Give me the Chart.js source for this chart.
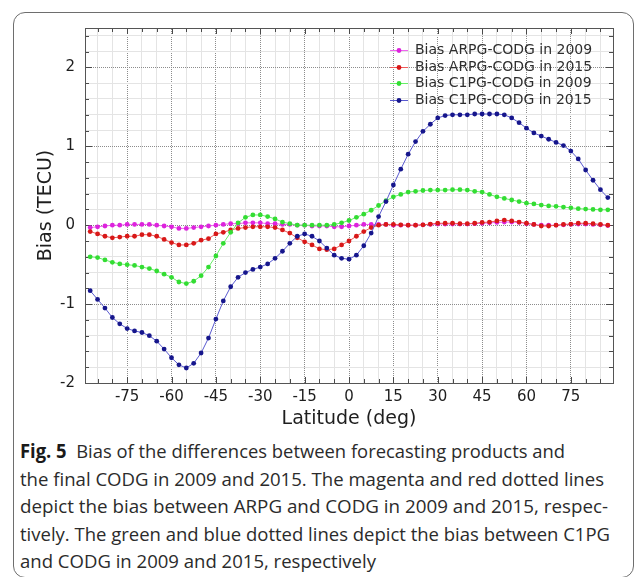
<!DOCTYPE html>
<html>
<head>
<meta charset="utf-8">
<title>Bias of forecasting products vs CODG</title>
<script src="https://cdn.jsdelivr.net/npm/chart.js@4/dist/chart.umd.min.js"></script>
<style>
  html, body { margin: 0; padding: 0; background: #fff; }
  body { width: 635px; height: 577px; position: relative; overflow: hidden; }
  #frame {
    position: absolute; left: 13px; top: 12px; width: 621px; height: 566px;
    border: 1.5px solid #6e6e6e; border-radius: 12px; box-sizing: border-box;
  }
  #plot { position: absolute; left: 0; top: 0; }
  .cap {
    position: absolute; left: 20px; height: 28px; line-height: 28px;
    font-family: "Open Sans", "Noto Sans", sans-serif; font-size: 19px;
    color: #2b2b2b; white-space: nowrap; transform-origin: 0 50%;
  }
  .cap b { font-weight: 700; color: #1a1a1a; }
</style>
</head>
<body>
<div id="frame"></div>
<canvas id="plot" width="635" height="430"></canvas>

<div class="cap" style="top:437px" data-w="545"><b>Fig. 5</b>&nbsp; Bias of the differences between forecasting products and</div>
<div class="cap" style="top:465px" data-w="584">the final CODG in 2009 and 2015. The magenta and red dotted lines</div>
<div class="cap" style="top:492px" data-w="588">depict the bias between ARPG and CODG in 2009 and 2015, respec-</div>
<div class="cap" style="top:520px" data-w="590">tively. The green and blue dotted lines depict the bias between C1PG</div>
<div class="cap" style="top:547px" data-w="356">and CODG in 2009 and 2015, respectively</div>

<script>
// latitude bands (deg)
const latitudes = [
  -87.5, -85, -82.5, -80, -77.5, -75, -72.5, -70, -67.5, -65, -62.5, -60,
  -57.5, -55, -52.5, -50, -47.5, -45, -42.5, -40, -37.5, -35, -32.5, -30,
  -27.5, -25, -22.5, -20, -17.5, -15, -12.5, -10, -7.5, -5, -2.5, 0,
  2.5, 5, 7.5, 10, 12.5, 15, 17.5, 20, 22.5, 25, 27.5, 30, 32.5, 35,
  37.5, 40, 42.5, 45, 47.5, 50, 52.5, 55, 57.5, 60, 62.5, 65, 67.5, 70,
  72.5, 75, 77.5, 80, 82.5, 85, 87.5
];

// bias in TECU
const arpg2009 = [
  -0.03, -0.02, -0.01, 0.0, 0.0, 0.01, 0.01, 0.01, 0.01, 0.0, -0.01, -0.02,
  -0.04, -0.04, -0.03, -0.02, -0.01, 0.0, 0.01, 0.02, 0.02, 0.03, 0.03, 0.03,
  0.02, 0.02, 0.01, 0.01, 0.0, 0.0, -0.01, -0.01, -0.01, -0.02, -0.02, -0.01,
  0.0, 0.01, 0.01, 0.01, 0.01, 0.0, 0.0, 0.0, 0.0, 0.005, 0.01, 0.015, 0.015, 0.015,
  0.015, 0.015, 0.02, 0.025, 0.03, 0.035, 0.04, 0.04, 0.035, 0.02, 0.01, 0.0, 0.0, 0.0,
  0.005, 0.01, 0.015, 0.015, 0.01, 0.005, -0.005
];
const arpg2015 = [
  -0.08, -0.11, -0.14, -0.16, -0.15, -0.14, -0.14, -0.12, -0.12, -0.14, -0.18, -0.22,
  -0.25, -0.25, -0.23, -0.19, -0.17, -0.11, -0.09, -0.06, -0.04, -0.03, -0.02, -0.02,
  -0.02, -0.03, -0.06, -0.10, -0.16, -0.21, -0.25, -0.30, -0.31, -0.30, -0.25, -0.20,
  -0.14, -0.08, -0.03, 0.0, 0.01, 0.01, 0.005, 0.0, 0.0, 0.005, 0.015, 0.025, 0.025, 0.025,
  0.02, 0.02, 0.025, 0.035, 0.04, 0.055, 0.065, 0.055, 0.04, 0.025, 0.01, -0.01, -0.01, 0.0,
  0.01, 0.015, 0.025, 0.025, 0.02, 0.01, 0.0
];
const c1pg2009 = [
  -0.40, -0.41, -0.44, -0.47, -0.49, -0.50, -0.51, -0.53, -0.55, -0.58, -0.62, -0.66,
  -0.72, -0.74, -0.71, -0.64, -0.53, -0.39, -0.23, -0.09, 0.03, 0.10, 0.13, 0.13,
  0.11, 0.08, 0.04, 0.02, 0.0, 0.0, 0.0, 0.0, 0.0, 0.01, 0.03, 0.06,
  0.10, 0.14, 0.19, 0.25, 0.31, 0.36, 0.39, 0.42, 0.43, 0.44, 0.445, 0.445, 0.445, 0.45,
  0.45, 0.445, 0.43, 0.42, 0.39, 0.36, 0.34, 0.32, 0.30, 0.28, 0.27, 0.255, 0.245, 0.24,
  0.23, 0.22, 0.21, 0.205, 0.20, 0.195, 0.195
];
const c1pg2015 = [
  -0.83, -0.94, -1.05, -1.17, -1.25, -1.31, -1.34, -1.36, -1.40, -1.47, -1.57, -1.68,
  -1.77, -1.81, -1.75, -1.62, -1.43, -1.19, -0.96, -0.78, -0.66, -0.60, -0.56, -0.53,
  -0.49, -0.42, -0.33, -0.23, -0.14, -0.11, -0.14, -0.20, -0.29, -0.38, -0.42, -0.43,
  -0.38, -0.26, -0.10, 0.11, 0.30, 0.51, 0.71, 0.90, 1.06, 1.19, 1.28, 1.36, 1.39, 1.40,
  1.40, 1.40, 1.41, 1.41, 1.41, 1.41, 1.40, 1.36, 1.30, 1.23, 1.17, 1.13, 1.09, 1.05,
  1.01, 0.94, 0.84, 0.70, 0.57, 0.45, 0.35
];

const seriesLabels = [
  'Bias ARPG-CODG in 2009',
  'Bias ARPG-CODG in 2015',
  'Bias C1PG-CODG in 2009',
  'Bias C1PG-CODG in 2015'
];
const xTickLabels = [-75, -60, -45, -30, -15, 0, 15, 30, 45, 60, 75];
const yTickLabels = [-2, -1, 0, 1, 2];

const AXIS_FONT = 'DejaVu Sans';

// 2x2 checker so 1px grid lines come out dotted in both directions
function dotPattern(ctx, color) {
  const c = document.createElement('canvas');
  c.width = 2; c.height = 2;
  const g = c.getContext('2d');
  g.fillStyle = color;
  g.fillRect(0, 0, 1, 1);
  g.fillRect(1, 1, 1, 1);
  return ctx.createPattern(c, 'repeat');
}

const canvas = document.getElementById('plot');
const ctx2d = canvas.getContext('2d');
const majorGrid = dotPattern(ctx2d, '#8c8c8c');
const minorGrid = '#e4e4e4';

function toPoints(values) {
  return values.map((v, i) => ({ x: latitudes[i], y: v }));
}

function series(label, values, dot, line, order) {
  return {
    label: label,
    data: toPoints(values),
    borderColor: line,
    borderWidth: 1,
    pointBackgroundColor: dot,
    pointBorderWidth: 0,
    pointRadius: 2.4,
    tension: 0,
    order: order
  };
}

// border box, inward ticks and the legend
const framePlugin = {
  id: 'frame',
  beforeDatasetsDraw(chart) {
    const { ctx, chartArea: a, scales } = chart;
    ctx.save();
    ctx.strokeStyle = '#4a4a4a';
    ctx.lineWidth = 1;
    ctx.beginPath();
    scales.x.ticks.forEach(t => {
      const px = Math.round(scales.x.getPixelForValue(t.value)) + 0.5;
      const len = xTickLabels.includes(t.value) ? 6 : 4;
      ctx.moveTo(px, a.bottom); ctx.lineTo(px, a.bottom - len);
      ctx.moveTo(px, a.top); ctx.lineTo(px, a.top + len);
    });
    scales.y.ticks.forEach(t => {
      const py = Math.round(scales.y.getPixelForValue(t.value)) + 0.5;
      const len = yTickLabels.includes(t.value) ? 7 : 4;
      ctx.moveTo(a.left, py); ctx.lineTo(a.left + len, py);
      ctx.moveTo(a.right, py); ctx.lineTo(a.right - len, py);
    });
    ctx.stroke();
    ctx.strokeStyle = '#555';
    ctx.strokeRect(Math.round(a.left) + 0.5, Math.round(a.top) + 0.5,
      Math.round(a.right - a.left), Math.round(a.bottom - a.top));
    ctx.restore();
  },
  afterDraw(chart) {
    const { ctx } = chart;
    const x0 = 390, x1 = 408, tx = 415, y0 = 50, dy = 16.5;
    ctx.save();
    ctx.font = '14px "' + AXIS_FONT + '"';
    ctx.textBaseline = 'middle';
    ctx.textAlign = 'left';
    chart.data.datasets.forEach((ds, i) => {
      const y = Math.round(y0 + i * dy) + 0.5;
      ctx.strokeStyle = ds.borderColor;
      ctx.lineWidth = 1;
      ctx.beginPath();
      ctx.moveTo(x0, y); ctx.lineTo(x1, y);
      ctx.stroke();
      ctx.fillStyle = ds.pointBackgroundColor;
      ctx.beginPath();
      ctx.arc((x0 + x1) / 2, y, 2.4, 0, Math.PI * 2);
      ctx.fill();
      ctx.fillStyle = '#2e2e2e';
      ctx.fillText(ds.label, tx, y);
    });
    ctx.restore();
  }
};

new Chart(ctx2d, {
  type: 'line',
  data: {
    datasets: [
      series(seriesLabels[0], arpg2009, '#dd22dd', '#ee66ee', 3),
      series(seriesLabels[1], arpg2015, '#d81818', '#ee5a5a', 2),
      series(seriesLabels[2], c1pg2009, '#33dd33', '#66ee66', 1),
      series(seriesLabels[3], c1pg2015, '#16168c', '#5a5ad0', 0)
    ]
  },
  options: {
    responsive: false,
    animation: false,
    events: [],
    layout: { padding: { top: 28, right: 22, left: 0, bottom: 0 } },
    plugins: {
      legend: { display: false },
      tooltip: { enabled: false }
    },
    scales: {
      x: {
        type: 'linear',
        min: -89.25,
        max: 89.25,
        afterBuildTicks(scale) {
          const ticks = [];
          for (let v = -85; v <= 85; v += 5) ticks.push({ value: v });
          scale.ticks = ticks;
        },
        afterFit(scale) { scale.height = 47; },
        grid: {
          drawTicks: false,
          color: c => (c.tick && c.tick.value % 15 === 0) ? majorGrid : minorGrid
        },
        border: { display: false },
        ticks: {
          autoSkip: false,
          maxRotation: 0,
          padding: 5,
          color: '#1e1e1e',
          font: { family: AXIS_FONT, size: 15 },
          callback: v => xTickLabels.includes(v) ? String(v) : ''
        },
        title: {
          display: true,
          text: 'Latitude (deg)',
          color: '#1e1e1e',
          font: { family: AXIS_FONT, size: 19 },
          padding: { top: 0, bottom: 0 }
        }
      },
      y: {
        min: -2,
        max: 2.5,
        afterBuildTicks(scale) {
          const ticks = [];
          for (let k = -10; k <= 12; k++) ticks.push({ value: Math.round(k * 2) / 10 });
          scale.ticks = ticks;
        },
        afterFit(scale) { scale.width = 85; },
        grid: {
          drawTicks: false,
          color: c => (c.tick && Number.isInteger(c.tick.value)) ? majorGrid : minorGrid
        },
        border: { display: false },
        ticks: {
          autoSkip: false,
          padding: 10,
          color: '#1e1e1e',
          font: { family: AXIS_FONT, size: 15 },
          callback: v => yTickLabels.includes(v) ? String(v) : ''
        },
        title: {
          display: true,
          text: 'Bias (TECU)',
          color: '#1e1e1e',
          font: { family: AXIS_FONT, size: 19 },
          padding: { top: 35, bottom: 0 }
        }
      }
    }
  },
  plugins: [framePlugin]
});

// squeeze each caption line to its column width
document.querySelectorAll('.cap').forEach(el => {
  const w = el.getBoundingClientRect().width;
  const target = parseFloat(el.dataset.w);
  el.style.transform = 'scaleX(' + (target / w).toFixed(4) + ')';
});
</script>
</body>
</html>
